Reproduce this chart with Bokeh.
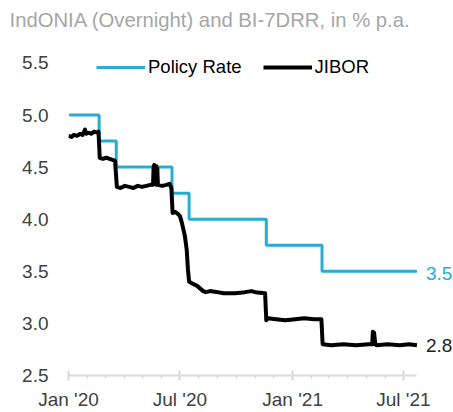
import datetime as dt
from bokeh.plotting import figure
from bokeh.models import (FixedTicker, DatetimeTickFormatter, Range1d, Legend,
                          LegendItem, Label, NumeralTickFormatter, Title)
from bokeh.embed import file_html
from bokeh.resources import INLINE

D = dt.datetime

# Policy rate (BI-7DRR) change dates and levels
policy_dates = [D(2020, 1, 2), D(2020, 2, 20), D(2020, 3, 19), D(2020, 6, 18),
                D(2020, 7, 16), D(2020, 11, 19), D(2021, 2, 18), D(2021, 7, 23)]
policy_values = [5.00, 4.75, 4.50, 4.25, 4.00, 3.75, 3.50, 3.50]

# Overnight rate (labelled JIBOR)
jibor_dates = [
    D(2020, 1, 1), D(2020, 1, 6), D(2020, 1, 10), D(2020, 1, 15), D(2020, 1, 20),
    D(2020, 1, 24), D(2020, 1, 28), D(2020, 1, 30), D(2020, 2, 3), D(2020, 2, 7),
    D(2020, 2, 12), D(2020, 2, 17), D(2020, 2, 19), D(2020, 2, 21), D(2020, 2, 26),
    D(2020, 3, 3), D(2020, 3, 8), D(2020, 3, 13), D(2020, 3, 17), D(2020, 3, 20),
    D(2020, 3, 26), D(2020, 4, 2), D(2020, 4, 9), D(2020, 4, 16), D(2020, 4, 23),
    D(2020, 4, 30), D(2020, 5, 7), D(2020, 5, 14), D(2020, 5, 18), D(2020, 5, 19),
    D(2020, 5, 20), D(2020, 5, 21), D(2020, 5, 22), D(2020, 5, 23), D(2020, 5, 24),
    D(2020, 5, 25), D(2020, 5, 26), D(2020, 6, 2), D(2020, 6, 9), D(2020, 6, 14),
    D(2020, 6, 17), D(2020, 6, 19), D(2020, 6, 23), D(2020, 6, 28), D(2020, 7, 1),
    D(2020, 7, 4), D(2020, 7, 9), D(2020, 7, 12), D(2020, 7, 14), D(2020, 7, 16),
    D(2020, 7, 22), D(2020, 7, 29), D(2020, 8, 8), D(2020, 8, 12), D(2020, 8, 19),
    D(2020, 9, 1), D(2020, 9, 10), D(2020, 9, 29), D(2020, 10, 15), D(2020, 10, 26),
    D(2020, 11, 1), D(2020, 11, 17), D(2020, 11, 19), D(2020, 11, 22), D(2020, 12, 5),
    D(2020, 12, 20), D(2021, 1, 5), D(2021, 1, 20), D(2021, 2, 5), D(2021, 2, 17),
    D(2021, 2, 19), D(2021, 3, 5), D(2021, 3, 25), D(2021, 4, 15), D(2021, 5, 5),
    D(2021, 5, 11), D(2021, 5, 12), D(2021, 5, 13), D(2021, 5, 14), D(2021, 5, 16),
    D(2021, 5, 18), D(2021, 6, 5), D(2021, 6, 25), D(2021, 7, 10), D(2021, 7, 23),
]
jibor_values = [
    4.80, 4.79, 4.81, 4.80, 4.82,
    4.81, 4.86, 4.82, 4.83, 4.82,
    4.84, 4.83, 4.84, 4.59, 4.58,
    4.59, 4.58, 4.57, 4.56, 4.31,
    4.30, 4.32, 4.31, 4.30, 4.32,
    4.31, 4.32, 4.33, 4.33, 4.50,
    4.52, 4.34, 4.50, 4.51, 4.33,
    4.49, 4.33, 4.32, 4.33, 4.34,
    4.30, 4.06, 4.07, 4.05, 4.03,
    3.97, 3.84, 3.71, 3.52, 3.40,
    3.38, 3.36, 3.31, 3.30, 3.31,
    3.30, 3.29, 3.29, 3.30, 3.31,
    3.30, 3.29, 3.03, 3.05, 3.04,
    3.03, 3.04, 3.05, 3.04, 3.04,
    2.80, 2.79, 2.80, 2.79, 2.80,
    2.80, 2.92, 2.80, 2.91, 2.80,
    2.79, 2.80, 2.79, 2.80, 2.79,
]

y_ticks = [2.5, 3.0, 3.5, 4.0, 4.5, 5.0, 5.5]
x_major = [D(2020, 1, 1), D(2020, 7, 1), D(2021, 1, 1), D(2021, 7, 1)]
x_minor = [D(2020 + (m // 12), m % 12 + 1, 1) for m in range(0, 19)]

BLUE = "#29accf"
GREY_TXT = "#404040"
FONT = "Liberation Sans"


def ms(d):
    return (d - D(1970, 1, 1)).total_seconds() * 1000.0


x_start = D(2020, 1, 1)
x_end_axis = policy_dates[-1]
# extra room to the right of the frame for the end-value labels
x_end_view = x_start + dt.timedelta(days=628.7)

p = figure(width=453, height=412, x_axis_type="datetime",
           output_backend="svg", toolbar_location=None,
           x_range=Range1d(x_start, x_end_view),
           y_range=Range1d(2.5, 5.6),
           min_border_left=68, min_border_right=0,
           min_border_top=52, min_border_bottom=35)
p.outline_line_color = None
p.grid.grid_line_color = None
p.background_fill_color = "white"

p.title.text = "IndONIA (Overnight) and BI-7DRR, in % p.a."
p.title.text_font = FONT
p.title.text_font_size = "20.3px"
p.title.text_font_style = "normal"
p.title.text_color = "#a6a6a6"
p.title.align = "left"
p.title.vertical_align = "top"
p.title.offset = -59
p.title.standoff = 6

# empty spacer between the title and the plot area
p.add_layout(Title(text=" ", text_font_size="1px", standoff=14), "above")

r_pol = p.step(policy_dates, policy_values, mode="after", line_color=BLUE,
               line_width=3)
r_jib = p.line(jibor_dates, jibor_values, line_color="black", line_width=4,
               line_join="round")

# axes
xa = p.xaxis[0]
xa.bounds = (x_start, x_end_axis)
xa.ticker = FixedTicker(ticks=[ms(d) for d in x_major],
                        minor_ticks=[ms(d) for d in x_minor])
fmt = "%b '%y"
xa.formatter = DatetimeTickFormatter(days=fmt, months=fmt, years=fmt,
                                     hours=fmt, minutes=fmt, seconds=fmt,
                                     milliseconds=fmt, microseconds=fmt,
                                     hourmin=fmt, minsec=fmt)
xa.axis_line_color = "#d9d9d9"
xa.axis_line_width = 2
xa.major_tick_line_color = "#d9d9d9"
xa.major_tick_line_width = 2
xa.major_tick_in = 5
xa.major_tick_out = 5
xa.minor_tick_line_color = "#d9d9d9"
xa.minor_tick_line_width = 1.5
xa.minor_tick_in = 0
xa.minor_tick_out = 3
xa.major_label_text_font = FONT
xa.major_label_text_font_size = "19px"
xa.major_label_text_color = GREY_TXT
xa.major_label_standoff = 8

ya = p.yaxis[0]
ya.ticker = FixedTicker(ticks=y_ticks)
ya.formatter = NumeralTickFormatter(format="0.0")
ya.axis_line_color = None
ya.major_tick_line_color = None
ya.minor_tick_line_color = None
ya.major_label_text_font = FONT
ya.major_label_text_font_size = "19px"
ya.major_label_text_color = GREY_TXT
ya.major_label_standoff = 14

legend = Legend(items=[LegendItem(label="Policy Rate", renderers=[r_pol]),
                       LegendItem(label="JIBOR", renderers=[r_jib])],
                orientation="horizontal", location=(28, 297),
                padding=0, margin=0, spacing=21,
                glyph_width=49, glyph_height=20, label_height=20,
                label_standoff=3,
                label_text_font=FONT, label_text_font_size="18.5px",
                label_text_color="black",
                border_line_color=None, background_fill_alpha=0)
p.add_layout(legend)

p.add_layout(Label(x=policy_dates[-1], y=policy_values[-1], text="3.5",
                   x_offset=9, y_offset=-2, text_baseline="middle",
                   text_font=FONT, text_font_size="19px", text_color=BLUE))
p.add_layout(Label(x=jibor_dates[-1], y=jibor_values[-1], text="2.8",
                   x_offset=9, text_baseline="middle", text_font=FONT,
                   text_font_size="19px", text_color="#222222"))

open("out.html", "w").write(file_html(p, INLINE))
